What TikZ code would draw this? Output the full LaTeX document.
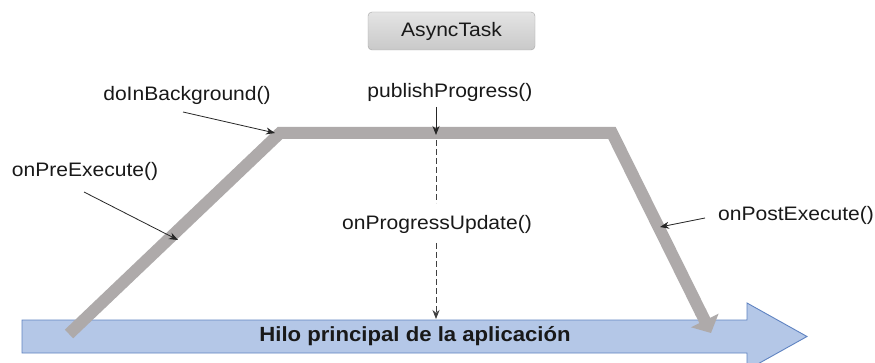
\documentclass[tikz,border=0pt]{standalone}
\usepackage{fontspec}
\setmainfont{Liberation Sans}[FakeStretch=1.08]
\usetikzlibrary{arrows.meta,calc}
\definecolor{trackgray}{HTML}{AEAAAA}
\definecolor{threadfill}{HTML}{B4C7E7}
\definecolor{threadedge}{HTML}{5F83C2}
\definecolor{boxtop}{HTML}{E4E4E4}
\definecolor{boxbot}{HTML}{C9C9C9}
\tikzset{
  lbl/.style={font=\fontsize{19.5}{23}\selectfont, inner sep=0pt, text=black!90},
  pointer/.style={draw=black!85, line width=0.8pt, -{Stealth[length=9pt,width=7pt]}},
  track/.style={draw=trackgray, line width=12pt, line join=miter},
  dashline/.style={draw=black!75, line width=0.8pt, dash pattern=on 6pt off 3pt},
}
\begin{document}
\begin{tikzpicture}[x=1pt,y=-1pt]
\useasboundingbox (0,0) rectangle (875,363);
\fill[white] (0,0) rectangle (875,363);

% main thread arrow
\begin{scope}
\clip (0,0) rectangle (875,363);
\draw[fill=threadfill, draw=threadedge, line width=0.9pt]
  (22,320) -- (747,320) -- (747,303) -- (807,336.5) -- (747,370) -- (747,353) -- (22,353) -- cycle;
\end{scope}
\node[lbl, font=\fontsize{20.5}{24}\selectfont\bfseries] (thread) at (415,336.5) {Hilo principal de la aplicación};

% title box
\node[lbl, draw=black!35, rounded corners=4pt, top color=boxtop, bottom color=boxbot,
      minimum width=167pt, minimum height=38pt] (title) at (451.5,31) {AsyncTask};

% task lifetime track
\coordinate (start) at (69,334);
\coordinate (bgcorner) at (280,133);
\coordinate (pcorner) at (612,133);
\coordinate (finish) at (711,333);
\coordinate (tipbase) at ($(pcorner)!0.9!(finish)$);
\draw[track] (start) -- (bgcorner) -- (pcorner) -- (tipbase);
\draw[draw=trackgray, line width=12pt, -{Triangle[width=30pt,length=14pt]}]
  ($(tipbase)!-2pt!(finish)$) -- (finish);

% callback labels
\node[lbl] (pre) at (85,171) {onPreExecute()};
\coordinate (preS) at (84,192);
\coordinate (preT) at (178,240);
\draw[pointer] (preS) -- (preT);

\node[lbl] (bg) at (187,95) {doInBackground()};
\coordinate (bgS) at (183,112);
\coordinate (bgT) at (275,133);
\draw[pointer] (bgS) -- (bgT);

\node[lbl] (pub) at (450,92) {publishProgress()};
\coordinate (pubS) at (436,107);
\coordinate (pubT) at (436,135);
\draw[pointer] (pubS) -- (pubT);

\node[lbl] (upd) at (437,224) {onProgressUpdate()};
\coordinate (updS) at (436,140);
\coordinate (updA) at (436,203);
\coordinate (updB) at (436,243);
\coordinate (updT) at (436,319);
\draw[dashline] (updS) -- (updA);
\draw[dashline, -{Stealth[length=9pt,width=7pt]}] (updB) -- (updT);

\node[lbl] (post) at (796,215) {onPostExecute()};
\coordinate (postS) at (705,218);
\coordinate (postT) at (660,227);
\draw[pointer] (postS) -- (postT);
\end{tikzpicture}
\end{document}
